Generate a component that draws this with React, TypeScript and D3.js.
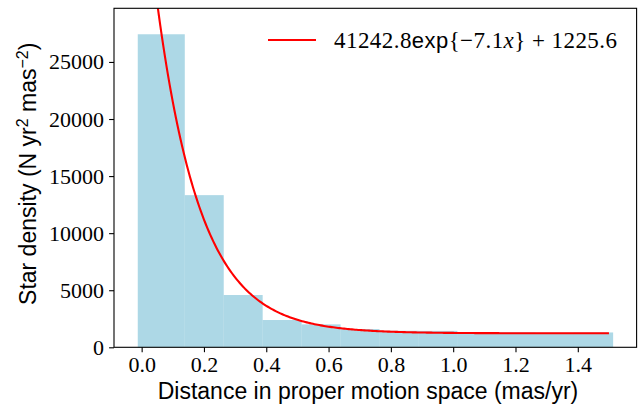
import { useEffect, useRef } from "react";
import * as d3 from "d3";

// histogram bins (mas/yr) and star density per bin
const binEdges = [-0.0125, 0.1375, 0.2625, 0.3875, 0.5125, 0.6375, 0.7625, 0.8875, 1.0125, 1.1375, 1.2625, 1.3875, 1.5125];
const densities = [27425, 13330, 4580, 2390, 2010, 1600, 1450, 1440, 1330, 1310, 1290, 1300];

// fit parameters shown in the legend
const fitAmp = 41242.8;
const fitRate = 7.1;
const fitOffset = 1225.6;
const fitRange = [0, 1.5];

const xTicks = [0, 0.2, 0.4, 0.6, 0.8, 1.0, 1.2, 1.4];
const yTicks = [0, 5000, 10000, 15000, 20000, 25000];

export default function App() {
  const svgRef = useRef<SVGSVGElement>(null);

  useEffect(() => {
    document.body.style.margin = "0";
    const width = 644;
    const height = 406;
    const left = 114, right = 636.6, top = 8.3, bottom = 347.3;
    const serif = "Liberation Serif, DejaVu Serif, serif";
    const sans = "Liberation Sans, DejaVu Sans, sans-serif";

    const svg = d3.select(svgRef.current).attr("width", width).attr("height", height);
    svg.selectAll("*").remove();

    const x = d3.scaleLinear().domain([-0.08875, 1.58875]).range([left, right]);
    const y = d3.scaleLinear().domain([0, 29700]).range([bottom, top]);

    svg.append("clipPath").attr("id", "plot").append("rect")
      .attr("x", left).attr("y", top).attr("width", right - left).attr("height", bottom - top);

    const bins = densities.map((v, i) => ({ x0: binEdges[i], x1: binEdges[i + 1], v }));

    svg.append("g")
      .selectAll("rect")
      .data(bins)
      .enter()
      .append("rect")
      .attr("x", (d) => x(d.x0))
      .attr("width", (d) => x(d.x1) - x(d.x0) + 0.3)
      .attr("y", (d) => y(d.v))
      .attr("height", (d) => y(0) - y(d.v))
      .attr("fill", "#add8e6");

    const pts = d3.range(0, 301).map((i) => {
      const t = fitRange[0] + (i / 300) * (fitRange[1] - fitRange[0]);
      return [t, fitAmp * Math.exp(-fitRate * t) + fitOffset] as [number, number];
    });
    const line = d3.line<[number, number]>().x((d) => x(d[0])).y((d) => y(d[1]));
    svg.append("path")
      .datum(pts)
      .attr("d", line)
      .attr("fill", "none")
      .attr("stroke", "red")
      .attr("stroke-width", 2.1)
      .attr("clip-path", "url(#plot)");

    // axes frame
    svg.append("rect")
      .attr("x", left).attr("y", top).attr("width", right - left).attr("height", bottom - top)
      .attr("fill", "none").attr("stroke", "black").attr("stroke-width", 1.1);

    const xAxis = d3.axisBottom(x).tickValues(xTicks).tickSize(4.9).tickPadding(4).tickFormat(d3.format(".1f"));
    const gx = svg.append("g").attr("transform", `translate(0, ${bottom})`).call(xAxis);
    const yAxis = d3.axisLeft(y).tickValues(yTicks).tickSize(4.9).tickPadding(5).tickFormat(d3.format("d"));
    const gy = svg.append("g").attr("transform", `translate(${left}, 0)`).call(yAxis);
    [gx, gy].forEach((g) => {
      g.attr("font-family", serif).attr("font-size", 22);
      g.select(".domain").remove();
      g.selectAll("line").attr("stroke", "black").attr("stroke-width", 1.1);
      g.selectAll("text").attr("fill", "black");
    });
    gx.selectAll("text").attr("dy", "0.72em");

    svg.append("text")
      .attr("x", 368)
      .attr("y", 399)
      .attr("text-anchor", "middle")
      .attr("font-family", sans)
      .attr("font-size", 23)
      .text("Distance in proper motion space (mas/yr)");

    const yl = svg.append("text")
      .attr("transform", `translate(36, ${(top + bottom) / 2 - 4}) rotate(-90)`)
      .attr("text-anchor", "middle")
      .attr("font-family", sans)
      .attr("font-size", 23);
    yl.append("tspan").text("Star density (N yr");
    yl.append("tspan").attr("baseline-shift", "super").attr("font-size", 16).text("2");
    yl.append("tspan").text(" mas");
    yl.append("tspan").attr("baseline-shift", "super").attr("font-size", 16).text("−2");
    yl.append("tspan").text(")");

    // legend
    svg.append("line")
      .attr("x1", 268).attr("x2", 316).attr("y1", 40).attr("y2", 40)
      .attr("stroke", "red").attr("stroke-width", 2.1);
    const lt = svg.append("text")
      .attr("x", 334)
      .attr("y", 48)
      .attr("font-family", serif)
      .attr("font-size", 23)
      .attr("textLength", 283)
      .attr("lengthAdjust", "spacing");
    lt.append("tspan").text("41242.8");
    lt.append("tspan").attr("font-family", sans).attr("font-size", 22).text("exp");
    lt.append("tspan").text("{−7.1");
    lt.append("tspan").attr("font-style", "italic").text("x");
    lt.append("tspan").text("} + 1225.6");
  }, []);

  return <svg ref={svgRef}></svg>;
}
